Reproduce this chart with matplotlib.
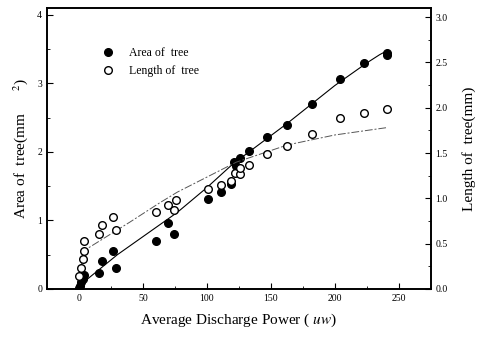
import matplotlib.pyplot as plt
from matplotlib.ticker import MultipleLocator, FormatStrFormatter

plt.rcParams['font.family'] = ['Liberation Serif', 'DejaVu Serif']
plt.rcParams['mathtext.fontset'] = 'stix'

# measured points
area_x = [0, 1, 2, 3, 4, 15.6, 18, 27, 29, 60, 69.4, 74, 100.6, 110.8, 119,
          121, 123, 126, 132.6, 147, 163, 182.5, 204, 223, 241, 241]
area_y = [0.01, 0.05, 0.1, 0.15, 0.2, 0.23, 0.41, 0.55, 0.31, 0.70, 0.96, 0.80,
          1.32, 1.42, 1.53, 1.85, 1.80, 1.91, 2.01, 2.22, 2.40, 2.70, 3.06,
          3.30, 3.45, 3.42]

length_x = [0, 1.6, 3, 4, 4, 15.6, 18, 27, 29, 60, 69.4, 74, 75.7, 100.6,
            110.8, 119, 122, 125.6, 126, 132.6, 147, 163, 182.5, 204, 223, 241]
length_y = [0.14, 0.23, 0.33, 0.42, 0.53, 0.61, 0.71, 0.79, 0.65, 0.85, 0.93,
            0.87, 0.98, 1.10, 1.15, 1.19, 1.28, 1.27, 1.33, 1.37, 1.49, 1.58,
            1.71, 1.89, 1.94, 1.99]

# fitted curves
fit_area_x = [0, 3, 5, 30, 77, 100, 120, 163, 200, 225, 235, 241]
fit_area_y = [0.0, 0.07, 0.12, 0.5, 1.12, 1.48, 1.82, 2.42, 2.97, 3.3, 3.42, 3.48]
fit_len_x = [1.5, 2.3, 7, 40, 63, 77, 123, 163, 200, 240]
fit_len_y = [0.22, 0.30, 0.45, 0.74, 0.95, 1.07, 1.40, 1.59, 1.70, 1.78]

fig = plt.figure(figsize=(4.84, 3.39), dpi=100)
ax = fig.add_axes([0.097, 0.1475, 0.793, 0.8285])
ax2 = ax.twinx()

ax.plot(fit_area_x, fit_area_y, color='black', lw=0.8)
ax.plot(area_x, area_y, 'o', color='black', ms=5.5, label='Area of  tree')
ax2.plot(fit_len_x, fit_len_y, color='#555555', lw=0.7, dashes=(8, 2, 2, 2))
ax2.plot(length_x, length_y, 'o', mfc='white', mec='black', mew=1, ms=5.5,
         label='Length of  tree')

ax.set_xlim(-25, 275)
ax.set_ylim(0, 4.1)
ax2.set_ylim(0, 3.1)

ax.xaxis.set_major_locator(MultipleLocator(50))
ax.xaxis.set_minor_locator(MultipleLocator(25))
ax.yaxis.set_major_locator(MultipleLocator(1))
ax.yaxis.set_minor_locator(MultipleLocator(0.5))
ax2.yaxis.set_major_locator(MultipleLocator(0.5))
ax2.yaxis.set_minor_locator(MultipleLocator(0.25))
ax2.yaxis.set_major_formatter(FormatStrFormatter('%.1f'))

for a in (ax, ax2):
    a.tick_params(which='both', direction='in', labelsize=7, top=False)
    a.tick_params(which='major', length=4)
    a.tick_params(which='minor', length=2)
    for s in a.spines.values():
        s.set_linewidth(1.2)

ax.set_xlabel('Average Discharge Power ( $\\mathit{uw}$)', fontsize=11, labelpad=6)
ax.set_ylabel('Area of  tree(mm      $^{2}$)', fontsize=11, labelpad=5)
ax2.set_ylabel('Length of  tree(mm)', fontsize=11, labelpad=10)

h1, l1 = ax.get_legend_handles_labels()
h2, l2 = ax2.get_legend_handles_labels()
ax.legend(h1 + h2, l1 + l2, loc='upper left', bbox_to_anchor=(0.10, 0.9),
          frameon=False, fontsize=8.5, handletextpad=0.8, labelspacing=0.5)

fig.savefig('out.png', dpi=100)
